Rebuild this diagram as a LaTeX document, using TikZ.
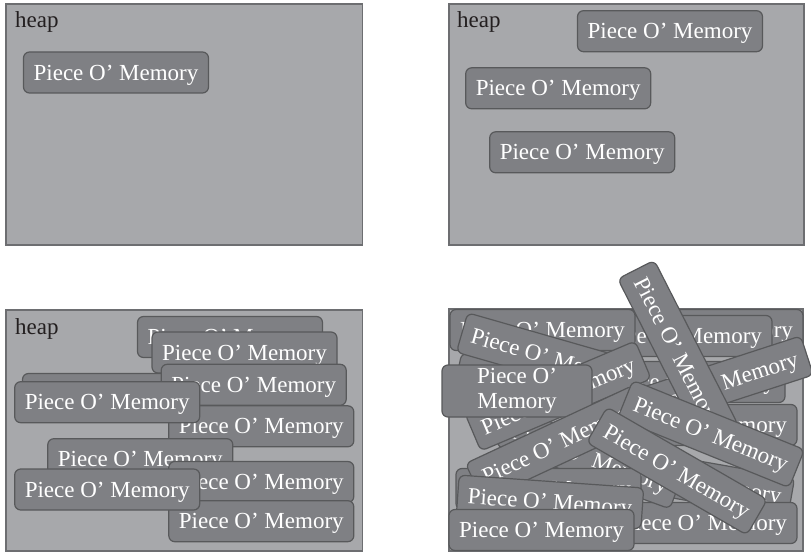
\documentclass[tikz,border=0pt]{standalone}
\usepackage{fontspec}
\setmainfont{Liberation Serif}
\definecolor{heapfill}{HTML}{A7A8AB}
\definecolor{heapline}{HTML}{6D6E71}
\definecolor{piecefill}{HTML}{7F8084}
\definecolor{pieceline}{HTML}{58595B}
\definecolor{heaptext}{HTML}{231F20}

\begin{document}
\begin{tikzpicture}[x=1pt, y=-1pt,
  heapbox/.style={draw=heapline, fill=heapfill, line width=1.5pt},
  heaplabel/.style={anchor=base west, inner sep=0pt, text=heaptext, font=\fontsize{23}{25}\selectfont},
  piece/.style={draw=pieceline, fill=piecefill, line width=1.2pt, rounded corners=6pt, text=white,
    minimum width=185pt, minimum height=41pt, inner sep=0pt, text depth=0pt,
    font=\fontsize{23}{25}\selectfont}]
  \useasboundingbox (0,0) rectangle (811,556);

  \draw[heapbox] (6,4) rectangle (362.5,245);
  \node[heaplabel] (heapA) at (15,28) {heap};
  \node[piece] (pa1) at (116,72.5) {Piece O' Memory};

  \draw[heapbox] (449,4) rectangle (804,245);
  \node[heaplabel] (heapB) at (457,28) {heap};
  \node[piece] (pb1) at (670,31.2) {Piece O' Memory};
  \node[piece] (pb2) at (558.2,88.3) {Piece O' Memory};
  \node[piece] (pb3) at (582.2,152.3) {Piece O' Memory};

  \draw[heapbox] (6,310) rectangle (362.5,551);
  \node[heaplabel] (heapC) at (15,334) {heap};
  \node[piece] (pc1) at (230,337) {Piece O' Memory};
  \node[piece] (pc2) at (244.5,352.5) {Piece O' Memory};
  \node[piece] (pc3) at (115,394) {Piece O' Memory};
  \node[piece] (pc4) at (253.7,384.8) {Piece O' Memory};
  \node[piece] (pc5) at (261.3,426.3) {Piece O' Memory};
  \node[piece] (pc6) at (107.2,402.2) {Piece O' Memory};
  \node[piece] (pc7) at (140.3,459.2) {Piece O' Memory};
  \node[piece] (pc8) at (261.3,482) {Piece O' Memory};
  \node[piece] (pc9) at (261.3,521.2) {Piece O' Memory};
  \node[piece] (pc10) at (107.2,489.5) {Piece O' Memory};

  \draw[heapbox] (449,309) rectangle (803,551);
  \node[piece] (pd2) at (710.5,330) {Piece O' Memory};
  \node[piece] (pd3) at (679.5,336) {Piece O' Memory};
  \node[piece] (pd1) at (542.5,330) {Piece O' Memory};
  \node[piece] (pd4) at (692.5,382) {Piece O' Memory};
  \node[piece] (pd5) at (704.5,425) {Piece O' Memory};
  \node[piece, rotate=-12] (pd6) at (548,392) {Piece O' Memory};
  \node[piece, rotate=-10] (pd7) at (700,482) {Piece O' Memory};
  \node[piece] (pd8) at (704.5,523) {Piece O' Memory};
  \node[piece, rotate=18] (pd9) at (719,384) {Piece O' Memory};
  \node[piece, rotate=-63] (pd10) at (678,352) {Piece O' Memory};
  \node[piece, rotate=-16] (pd11) at (551,358) {Piece O' Memory};
  \node[piece, rotate=-20] (pd14) at (590,458) {Piece O' Memory};
  \node[piece, rotate=23] (pd12) at (558,396) {Piece O' Memory};
  \node[piece, minimum width=150pt, minimum height=52pt, align=center, text depth=6pt] (pd13) at (517,391) {Piece O'\\Memory};
  \node[piece] (pd15) at (548.5,489) {Piece O' Memory};
  \node[piece, rotate=25] (pd16) at (558,443) {Piece O' Memory};
  \node[piece, rotate=-22] (pd17) at (711,434) {Piece O' Memory};
  \node[piece, rotate=-30] (pd18) at (677,471) {Piece O' Memory};
  \node[piece, rotate=-4] (pd19) at (550,502) {Piece O' Memory};
  \node[piece] (pd20) at (541.5,530) {Piece O' Memory};
\end{tikzpicture}
\end{document}
